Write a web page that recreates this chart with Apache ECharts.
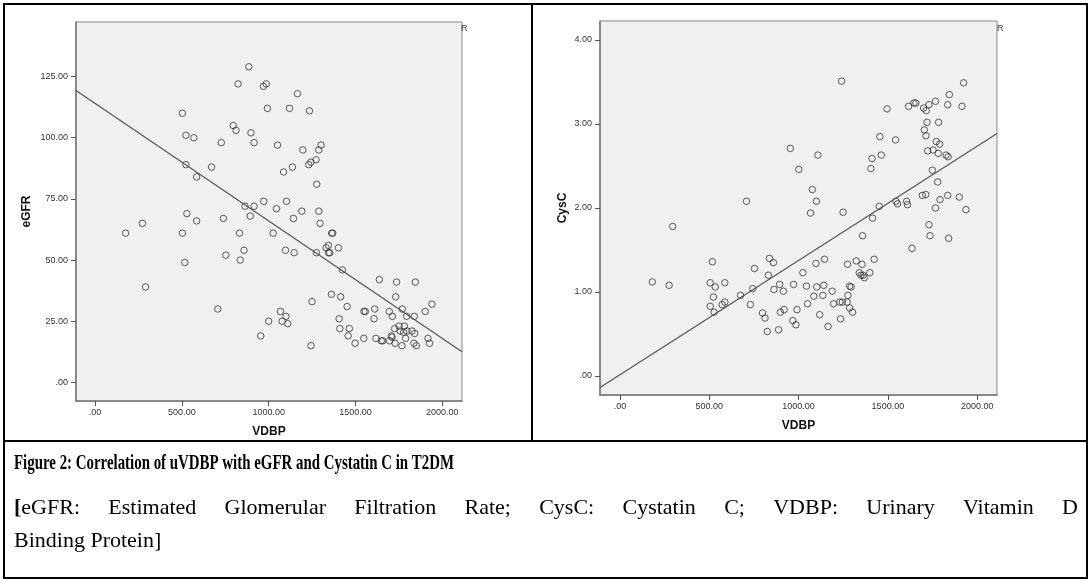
<!DOCTYPE html>
<html>
<head>
<meta charset="utf-8">
<script src="https://cdn.jsdelivr.net/npm/echarts@6/dist/echarts.min.js"></script>
<style>
html, body { margin: 0; padding: 0; background: #fff; }
#chart { width: 1091px; height: 581px; }
</style>
</head>
<body>
<div id="chart"></div>
<script>
var vdbpTicks = [0, 500, 1000, 1500, 2000];
var egfrTicks = [0, 25, 50, 75, 100, 125];
var cyscTicks = [0, 1, 2, 3, 4];

// left panel: VDBP vs eGFR
var vdbpA = [176, 273, 291, 503, 523, 569, 523, 585, 503, 529, 585, 517, 671, 727, 707, 739, 753, 796, 812, 824,
  832, 836, 858, 864, 886, 894, 898, 916, 916, 954, 970, 986, 972, 993, 1000, 1026, 1051, 1045, 1068, 1078,
  1086, 1097, 1103, 1100, 1110, 1120, 1137, 1143, 1147, 1166, 1191, 1197, 1235, 1231, 1243, 1244, 1250, 1273, 1277, 1275,
  1289, 1289, 1296, 1302, 1331, 1344, 1345, 1352, 1363, 1369, 1362, 1402, 1406, 1410, 1415, 1425, 1452, 1458, 1465, 1498,
  1548, 1549, 1557, 1611, 1607, 1618, 1638, 1649, 1657, 1695, 1697, 1707, 1713, 1711, 1726, 1728, 1737, 1732, 1751, 1757,
  1770, 1768, 1782, 1778, 1789, 1795, 1797, 1826, 1841, 1839, 1837, 1845, 1851, 1902, 1918, 1927, 1941];
var egfr = [61, 65, 39, 110, 101, 100, 89, 84, 61, 69, 66, 49, 88, 98, 30, 67, 52, 105, 103, 122,
  61, 50, 54, 72, 129, 68, 102, 98, 72, 19, 121, 122, 74, 112, 25, 61, 97, 71, 29, 25,
  86, 54, 74, 27, 24, 112, 88, 67, 53, 118, 70, 95, 111, 89, 90, 15, 33, 91, 81, 53,
  95, 70, 65, 97, 55, 56, 53, 53, 61, 61, 36, 55, 26, 22, 35, 46, 31, 19, 22, 16,
  18, 29, 29, 30, 26, 18, 42, 17, 17, 29, 17, 19, 27, 18.5, 22, 16, 41, 35, 23, 21,
  30, 15, 23, 20.5, 18, 27, 21, 21, 20, 27, 16, 41, 15, 29, 18, 16, 32];

// right panel: VDBP vs CysC
var vdbpB = [181, 275, 295, 505, 517, 505, 523, 533, 527, 572, 587, 587, 675, 708, 730, 743, 753, 798, 812, 825,
  831, 837, 859, 862, 888, 894, 898, 915, 919, 954, 972, 968, 985, 991, 1001, 1024, 1044, 1050, 1067, 1077,
  1085, 1097, 1100, 1102, 1108, 1118, 1136, 1141, 1145, 1165, 1188, 1196, 1231, 1235, 1241, 1245, 1249, 1272, 1274, 1276,
  1286, 1294, 1286, 1302, 1323, 1340, 1349, 1355, 1358, 1361, 1368, 1399, 1405, 1411, 1414, 1423, 1452, 1455, 1463, 1495,
  1543, 1545, 1554, 1605, 1610, 1616, 1635, 1646, 1657, 1693, 1704, 1700, 1712, 1713, 1715, 1719, 1723, 1730, 1730, 1736,
  1753, 1749, 1767, 1767, 1771, 1779, 1782, 1784, 1790, 1792, 1826, 1835, 1837, 1835, 1840, 1844, 1900, 1915, 1924, 1937];
var cysc = [1.12, 1.08, 1.78, 1.11, 1.36, 0.83, 0.94, 1.06, 0.76, 0.85, 1.11, 0.88, 0.96, 2.08, 0.85, 1.04, 1.28, 0.75, 0.69, 0.53,
  1.20, 1.40, 1.35, 1.03, 0.55, 1.09, 0.76, 1.01, 0.79, 2.71, 1.09, 0.66, 0.61, 0.79, 2.46, 1.23, 1.07, 0.86, 1.94, 2.22,
  0.95, 1.34, 2.08, 1.06, 2.63, 0.73, 0.96, 1.08, 1.39, 0.59, 1.01, 0.86, 0.88, 0.68, 3.51, 0.88, 1.95, 0.88, 1.33, 0.96,
  1.07, 1.06, 0.81, 0.76, 1.37, 1.23, 1.20, 1.33, 1.67, 1.20, 1.17, 1.23, 2.47, 2.59, 1.88, 1.39, 2.02, 2.85, 2.63, 3.18,
  2.81, 2.08, 2.05, 2.08, 2.04, 3.21, 1.52, 3.25, 3.25, 2.15, 2.93, 3.19, 2.16, 2.86, 3.16, 3.02, 2.68, 3.23, 1.80, 1.67,
  2.69, 2.45, 3.27, 2.00, 2.79, 2.31, 2.65, 3.02, 2.76, 2.10, 2.63, 3.23, 2.61, 2.15, 1.64, 3.35, 2.13, 3.21, 3.49, 1.98];

// fit lines: [intercept, slope]
var egfrFit = [114.0, -0.048];
var cyscFit = [0.017, 0.00136];
var xRangeA = [-110, 2114];
var yRangeA = [-7.6, 147.3];
var xRangeB = [-112, 2111];
var yRangeB = [-0.226, 4.226];

var captionTitle = 'Figure 2: Correlation of uVDBP with eGFR and Cystatin C in T2DM';
var captionLine1 = '[eGFR: Estimated Glomerular Filtration Rate; CysC: Cystatin C; VDBP: Urinary Vitamin D';
var captionLine2 = 'Binding Protein]';

function pairs(xs, ys) {
  return xs.map(function (x, i) { return [x, ys[i]]; });
}
function fitLine(fit, range) {
  return range.map(function (x) { return [x, fit[0] + fit[1] * x]; });
}
function tickFmt(v) { return v === 0 ? '.00' : v.toFixed(2); }

var labelFont = { fontFamily: 'Liberation Sans', fontSize: 9, color: '#333' };
var nameFont = { fontFamily: 'Liberation Sans', fontSize: 12, fontWeight: 'bold', color: '#111' };

function xAxisFor(idx, range) {
  return {
    type: 'value', gridIndex: idx, min: range[0], max: range[1],
    name: 'VDBP', nameLocation: 'middle', nameGap: 25, nameTextStyle: nameFont,
    axisLine: { show: true, onZero: false, lineStyle: { color: '#777', width: 1.5 } },
    axisTick: { show: true, length: 5, customValues: vdbpTicks, lineStyle: { color: '#555' } },
    axisLabel: Object.assign({ customValues: vdbpTicks, margin: 7, formatter: tickFmt }, labelFont),
    splitLine: { show: false }
  };
}
function yAxisFor(idx, range, ticks, name, gap) {
  return {
    type: 'value', gridIndex: idx, min: range[0], max: range[1],
    name: name, nameLocation: 'middle', nameGap: gap, nameTextStyle: nameFont,
    axisLine: { show: true, onZero: false, lineStyle: { color: '#777', width: 1.5 } },
    axisTick: { show: true, length: 5, customValues: ticks, lineStyle: { color: '#555' } },
    axisLabel: Object.assign({ customValues: ticks, margin: 8, formatter: tickFmt }, labelFont),
    splitLine: { show: false }
  };
}

var dotStyle = { color: 'rgba(0,0,0,0)', borderColor: '#333', borderWidth: 1 };
var fitStyle = { color: '#555', width: 1.2 };

// caption text; the middle line is justified across the cell like the source
var ctx = document.createElement('canvas').getContext('2d');
function measure(str, font) { ctx.font = font; return ctx.measureText(str).width; }

var titleFont = 'bold 22px "Liberation Serif"';
var bodyFont = '22px "Liberation Serif"';
var bracketFont = 'bold 22px "Liberation Serif"';
var textLeft = 14, textRight = 1078;

var captionGraphics = [];
var titleScale = 440 / measure(captionTitle, titleFont);
captionGraphics.push({
  type: 'text', x: textLeft, y: 463, scaleX: titleScale,
  style: { text: captionTitle, font: titleFont, fill: '#000', textVerticalAlign: 'middle' }
});
var words = captionLine1.split(' ');
var widths = words.map(function (w) { return measure(w, bodyFont); });
var used = widths.reduce(function (a, b) { return a + b; }, 0);
var space = (textRight - textLeft - used) / (words.length - 1);
var cx = textLeft;
words.forEach(function (w, i) {
  if (w.charAt(0) === '[') {
    captionGraphics.push({ type: 'text', x: cx, y: 508,
      style: { text: '[', font: bracketFont, fill: '#000', textVerticalAlign: 'middle' } });
    captionGraphics.push({ type: 'text', x: cx + measure('[', bracketFont), y: 508,
      style: { text: w.slice(1), font: bodyFont, fill: '#000', textVerticalAlign: 'middle' } });
  } else {
    captionGraphics.push({ type: 'text', x: cx, y: 508,
      style: { text: w, font: bodyFont, fill: '#000', textVerticalAlign: 'middle' } });
  }
  cx += widths[i] + space;
});
captionGraphics.push({
  type: 'text', x: textLeft, y: 541,
  style: { text: captionLine2, font: bodyFont, fill: '#000', textVerticalAlign: 'middle' }
});

var frame = [
  { type: 'rect', shape: { x: 4, y: 4, width: 1083, height: 574 }, style: { fill: 'none', stroke: '#000', lineWidth: 2 } },
  { type: 'line', shape: { x1: 532, y1: 4, x2: 532, y2: 441 }, style: { stroke: '#000', lineWidth: 2 } },
  { type: 'line', shape: { x1: 4, y1: 441, x2: 1087, y2: 441 }, style: { stroke: '#000', lineWidth: 2 } },
  { type: 'text', x: 461, y: 29, style: { text: 'R', font: '9px "Liberation Sans"', fill: '#333', textVerticalAlign: 'middle' } },
  { type: 'text', x: 997, y: 29, style: { text: 'R', font: '9px "Liberation Sans"', fill: '#333', textVerticalAlign: 'middle' } }
];

var chart = echarts.init(document.getElementById('chart'));

var option = {
  animation: false,
  backgroundColor: '#fff',
  grid: [
    { left: 76, top: 22, width: 386, height: 379, show: true, backgroundColor: '#f0f0f0', borderColor: '#888', borderWidth: 1 },
    { left: 600, top: 21, width: 397, height: 374, show: true, backgroundColor: '#f0f0f0', borderColor: '#888', borderWidth: 1 }
  ],
  xAxis: [xAxisFor(0, xRangeA), xAxisFor(1, xRangeB)],
  yAxis: [
    yAxisFor(0, yRangeA, egfrTicks, 'eGFR', 43),
    yAxisFor(1, yRangeB, cyscTicks, 'CysC', 31)
  ],
  series: [
    { type: 'scatter', xAxisIndex: 0, yAxisIndex: 0, data: pairs(vdbpA, egfr), symbolSize: 6.5, itemStyle: dotStyle, silent: true },
    { type: 'line', xAxisIndex: 0, yAxisIndex: 0, data: fitLine(egfrFit, xRangeA), symbol: 'none', lineStyle: fitStyle, silent: true },
    { type: 'scatter', xAxisIndex: 1, yAxisIndex: 1, data: pairs(vdbpB, cysc), symbolSize: 6.5, itemStyle: dotStyle, silent: true },
    { type: 'line', xAxisIndex: 1, yAxisIndex: 1, data: fitLine(cyscFit, xRangeB), symbol: 'none', lineStyle: fitStyle, silent: true }
  ],
  graphic: frame.concat(captionGraphics)
};

chart.setOption(option);
</script>
</body>
</html>
